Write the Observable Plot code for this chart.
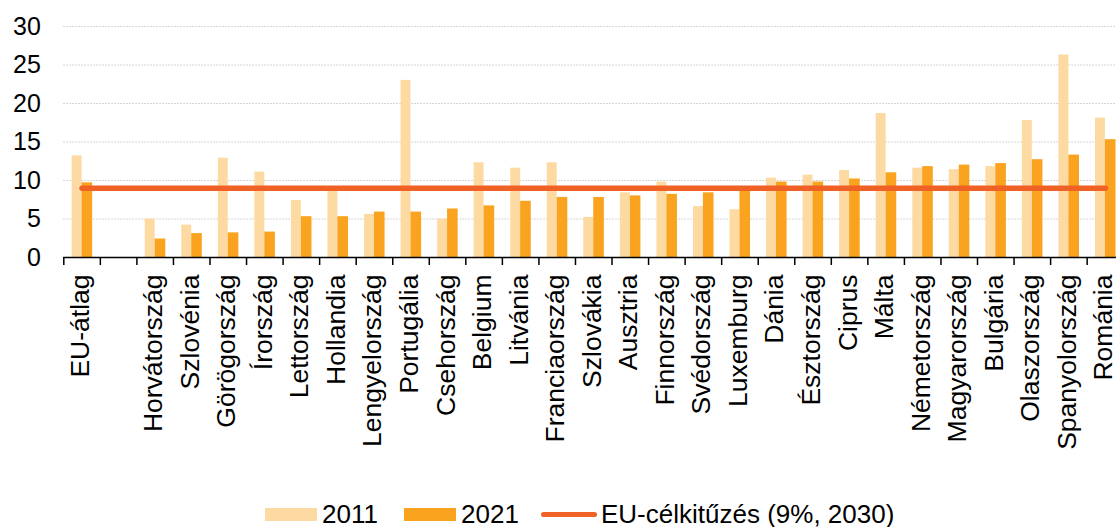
<!DOCTYPE html>
<html>
<head>
<meta charset="utf-8">
<script src="https://cdn.jsdelivr.net/npm/d3@7"></script>
<script src="https://cdn.jsdelivr.net/npm/@observablehq/plot@0.6"></script>
<style>
  html, body { margin: 0; padding: 0; background: #fff; overflow: hidden; }
  #wrap { position: relative; width: 1116px; height: 527px; font-family: "Liberation Sans", Arial, sans-serif; }
  #legend { position: relative; width: 1116px; height: 29px; font-size: 26px; color: #000; }
  #legend .sw { position: absolute; }
  #legend .tx { position: absolute; line-height: 26px; white-space: nowrap; }
</style>
</head>
<body>
<div id="wrap">
  <div id="chart"></div>
  <div id="legend"></div>
</div>
<script>
const categories = ["EU-átlag", "", "Horvátország", "Szlovénia", "Görögország", "Írország", "Lettország",
  "Hollandia", "Lengyelország", "Portugália", "Csehország", "Belgium", "Litvánia", "Franciaország",
  "Szlovákia", "Ausztria", "Finnország", "Svédország", "Luxemburg", "Dánia", "Észtország", "Ciprus",
  "Málta", "Németország", "Magyarország", "Bulgária", "Olaszország", "Spanyolország", "Románia"];
const values2011 = [13.2, null, 5.0, 4.2, 12.9, 11.1, 7.4, 8.7, 5.6, 23.0, 5.0, 12.3, 11.6, 12.3,
  5.2, 8.4, 9.8, 6.6, 6.2, 10.3, 10.7, 11.3, 18.7, 11.6, 11.4, 11.8, 17.8, 26.3, 18.1];
const values2021 = [9.7, null, 2.4, 3.1, 3.2, 3.3, 5.3, 5.3, 5.9, 5.9, 6.3, 6.7, 7.3, 7.8,
  7.8, 8.0, 8.2, 8.4, 8.8, 9.8, 9.8, 10.2, 11.0, 11.8, 12.0, 12.2, 12.7, 13.3, 15.3];
const target = 9;
const targetLabel = "EU-célkitűzés (9%, 2030)";
const seriesNames = ["2011", "2021"];
const yTicks = [0, 5, 10, 15, 20, 25, 30];
const gridTicks = [5, 10, 15, 20, 25, 30];

const colors = { c2011: "#FDDAA2", c2021: "#F9A31E", target: "#EF6124" };

const rows = categories.map((c, i) => ({ country: c, v2011: values2011[i], v2021: values2021[i] }));
const targetLine = [
  { country: categories[0], v: target },
  { country: categories[categories.length - 1], v: target }
];

const xLeft = 63.3, xRight = 1123.2;
const bw = (xRight - xLeft) / categories.length;

const chart = Plot.plot({
  width: 1116,
  height: 498,
  marginTop: 26,
  marginBottom: 241,
  marginLeft: xLeft,
  marginRight: 1116 - xRight,
  style: { fontFamily: "Liberation Sans, Arial, sans-serif", background: "#fff", color: "#000", overflow: "hidden" },
  x: { type: "band", domain: categories, range: [xLeft, xRight], padding: 0, round: false },
  y: { domain: [0, 30], range: [257, 26] },
  marks: [
    Plot.ruleY(gridTicks, { stroke: "#c8c8c8", strokeWidth: 1, strokeDasharray: "1.5,1.5" }),
    Plot.barY(rows.filter(d => d.v2011 != null), { x: "country", y: "v2011", fill: colors.c2011, insetLeft: bw * 0.228, insetRight: bw * 0.5 }),
    Plot.barY(rows.filter(d => d.v2021 != null), { x: "country", y: "v2021", fill: colors.c2021, insetLeft: bw * 0.5, insetRight: bw * 0.21 }),
    Plot.lineY(targetLine, { x: "country", y: "v", stroke: colors.target, strokeWidth: 5.5, strokeLinecap: "round" }),
    Plot.ruleY([0], { stroke: "#000", strokeWidth: 1.5 }),
    Plot.axisX({ tickSize: 8, tickFormat: () => "", dx: -bw / 2, stroke: "#000", strokeWidth: 1.5, label: null }),
    Plot.axisX({ tickSize: 0, tickRotate: -90, tickPadding: 17, fontSize: 26.5, fill: "#000", label: null, dx: -1.5 }),
    Plot.axisY({ ticks: yTicks, tickSize: 0, tickPadding: 23, fontSize: 25, fill: "#000", label: null })
  ]
});
document.getElementById("chart").appendChild(chart);

// Legend
const legend = document.getElementById("legend");
function add(html) { legend.insertAdjacentHTML("beforeend", html); }
add(`<div class="sw" style="left:265px;top:10px;width:52px;height:13px;background:${colors.c2011}"></div>`);
add(`<div class="tx" style="left:322px;top:3px">${seriesNames[0]}</div>`);
add(`<div class="sw" style="left:404px;top:10px;width:52px;height:13px;background:${colors.c2021}"></div>`);
add(`<div class="tx" style="left:461px;top:3px">${seriesNames[1]}</div>`);
add(`<div class="sw" style="left:541px;top:13.5px;width:56px;height:5.5px;border-radius:3px;background:${colors.target}"></div>`);
add(`<div class="tx" style="left:601px;top:3px">${targetLabel}</div>`);
</script>
</body>
</html>
